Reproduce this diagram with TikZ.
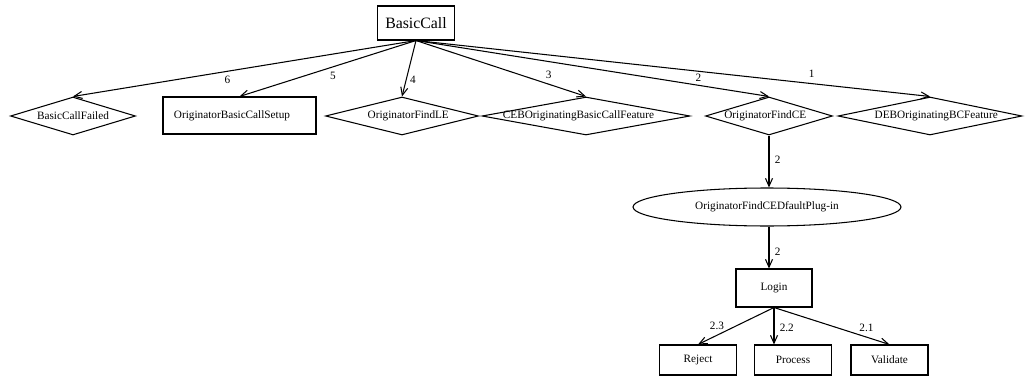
\documentclass[tikz,border=0pt]{standalone}
\usepackage{fontspec}
\setmainfont{Liberation Serif}
\usetikzlibrary{shapes.geometric}
\usetikzlibrary{arrows.meta}

\begin{document}
\begin{tikzpicture}[x=0.02cm, y=-0.02cm, line width=0.6pt,
		box/.style={draw, rectangle, inner sep=0pt, font=\fontsize{6.4}{7.7}\selectfont},
		choice/.style={draw, diamond, inner sep=0pt, font=\fontsize{6.4}{7.7}\selectfont},
		plugin/.style={draw, ellipse, inner sep=0pt, font=\fontsize{6.4}{7.7}\selectfont},
		link/.style={-{Straight Barb[length=4.5pt,width=4pt]}},
		num/.style={font=\fontsize{6.4}{7.7}\selectfont, inner sep=1pt}]
		\useasboundingbox (0,0) rectangle (1034,385);
		% top level
		\node [box, font=\fontsize{9}{11}\selectfont, minimum width=1.54cm, minimum height=0.68cm] (bc) at (416,23) {BasicCall};
		\node [choice, minimum width=2.5cm, minimum height=0.76cm] (fail) at (73,116) {\makebox[0pt]{BasicCallFailed}};
		\node [box, minimum width=3.06cm, minimum height=0.74cm] (setup) at (239.5,115.5) {\hspace{-0.3cm}OriginatorBasicCallSetup};
		\node [choice, minimum width=3.06cm, minimum height=0.76cm] (findle) at (402,116) {\makebox[0pt]{\hspace{0.25cm}OriginatorFindLE}};
		\node [choice, minimum width=4.16cm, minimum height=0.76cm] (ceb) at (586,116) {\makebox[0pt]{\hspace{-0.3cm}CEBOriginatingBasicCallFeature}};
		\node [choice, minimum width=2.54cm, minimum height=0.76cm] (findce) at (769,116) {\makebox[0pt]{\hspace{-0.15cm}OriginatorFindCE}};
		\node [choice, minimum width=3.68cm, minimum height=0.76cm] (deb) at (930,116) {\makebox[0pt]{\hspace{0.25cm}DEBOriginatingBCFeature}};
		\draw [link] (bc.south) -- (fail.north) node[num, pos=0.55, below=1.5pt] {6};
		\draw [link] (bc.south) -- (setup.north) node[num, pos=0.47, below=1.5pt] {5};
		\draw [link] (bc.south) -- (findle.north) node[num, pos=0.7, right=1pt] {4};
		\draw [link] (bc.south) -- (ceb.north) node[num, pos=0.78, above=2pt] {3};
		\draw [link] (bc.south) -- (findce.north) node[num, pos=0.8, above=1pt] {2};
		\draw [link] (bc.south) -- (deb.north) node[num, pos=0.77, above=2pt] {1};
		% plug-in and login
		\node [plugin, minimum width=5.36cm, minimum height=0.76cm] (dflt) at (767,207) {OriginatorFindCEDfaultPlug-in};
		\node [box, minimum width=1.52cm, minimum height=0.76cm] (login) at (774,288) {Login};
		\draw [link] (findce.south) -- (findce.south |- dflt.north) node[num, pos=0.47, right=2pt] {2};
		\draw [link] (findce.south |- dflt.south) -- (findce.south |- login.north) node[num, pos=0.6, right=2pt] {2};
		\node [box, minimum width=1.54cm, minimum height=0.6cm] (reject) at (698,360) {Reject};
		\node [box, minimum width=1.54cm, minimum height=0.6cm] (process) at (793,360) {Process};
		\node [box, minimum width=1.54cm, minimum height=0.6cm] (validate) at (889.5,360) {Validate};
		\draw [link] (login.south) -- (reject.north) node[num, pos=0.75, above=2pt] {2.3};
		\draw [link] (login.south) -- (process.north -| login.south) node[num, pos=0.55, right=2pt] {2.2};
		\draw [link] (login.south) -- (validate.north) node[num, pos=0.8, above=2pt] {2.1};
\end{tikzpicture}
\end{document}
